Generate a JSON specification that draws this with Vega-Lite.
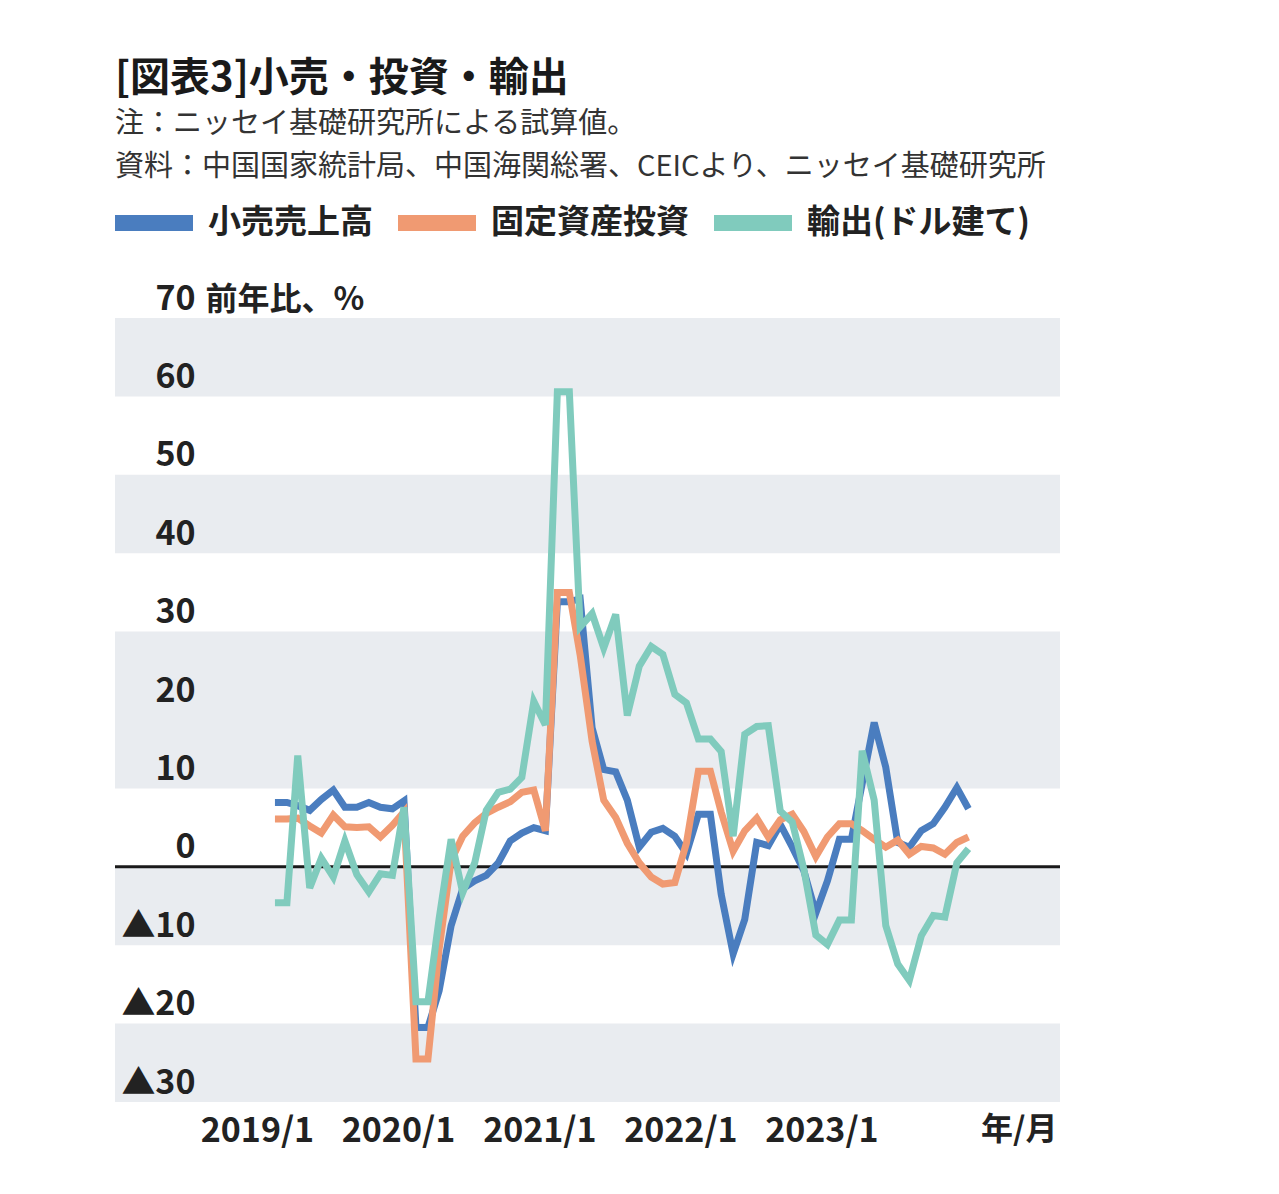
{
  "$schema": "https://vega.github.io/schema/vega-lite/v6.json",
  "width": 945,
  "height": 784,
  "autosize": {"type": "none"},
  "padding": {"left": 115, "top": 318, "right": 219, "bottom": 92},
  "background": "white",
  "config": {"font": "Noto Sans CJK JP", "view": {"stroke": null}},
  "title": {
    "text": "[図表3]小売・投資・輸出",
    "subtitle": ["注：ニッセイ基礎研究所による試算値。", "資料：中国国家統計局、中国海関総署、CEICより、ニッセイ基礎研究所"],
    "anchor": "start",
    "frame": "group",
    "fontSize": 40,
    "fontWeight": "bold",
    "color": "#1a1a1a",
    "subtitleFontSize": 29,
    "subtitleColor": "#333333",
    "subtitlePadding": 11,
    "subtitleLineHeight": 43,
    "offset": -6
  },
  "layer": [
    {
      "data": {"values": [
        {"lo": 60, "hi": 70}, {"lo": 40, "hi": 50}, {"lo": 10, "hi": 30}, {"lo": -10, "hi": 0}, {"lo": -30, "hi": -20}
      ]},
      "mark": {"type": "rect", "color": "#e9ecf0"},
      "encoding": {
        "y": {"field": "lo", "type": "quantitative"},
        "y2": {"field": "hi"}
      }
    },
    {
      "data": {"values": [{"z": 0}]},
      "mark": {"type": "rule", "color": "#1a1a1a", "strokeWidth": 3},
      "encoding": {"y": {"field": "z", "type": "quantitative"}}
    },
    {
      "data": {"values": [
        {"d": "2019-01-01", "retail": 8.2, "fai": 6.1, "export": -4.6},
        {"d": "2019-02-01", "retail": 8.2, "fai": 6.1, "export": -4.6},
        {"d": "2019-03-01", "retail": 7.8, "fai": 6.2, "export": 14.2},
        {"d": "2019-04-01", "retail": 7.2, "fai": 5.2, "export": -2.7},
        {"d": "2019-05-01", "retail": 8.6, "fai": 4.3, "export": 1.1},
        {"d": "2019-06-01", "retail": 9.8, "fai": 6.6, "export": -1.3},
        {"d": "2019-07-01", "retail": 7.6, "fai": 5.1, "export": 3.3},
        {"d": "2019-08-01", "retail": 7.6, "fai": 5.0, "export": -1.0},
        {"d": "2019-09-01", "retail": 8.2, "fai": 5.1, "export": -3.2},
        {"d": "2019-10-01", "retail": 7.6, "fai": 3.8, "export": -0.9},
        {"d": "2019-11-01", "retail": 7.4, "fai": 5.3, "export": -1.1},
        {"d": "2019-12-01", "retail": 8.4, "fai": 7.0, "export": 7.6},
        {"d": "2020-01-01", "retail": -20.5, "fai": -24.5, "export": -17.2},
        {"d": "2020-02-01", "retail": -20.5, "fai": -24.5, "export": -17.2},
        {"d": "2020-03-01", "retail": -15.8, "fai": -10.5, "export": -6.6},
        {"d": "2020-04-01", "retail": -7.5, "fai": 0.8, "export": 3.5},
        {"d": "2020-05-01", "retail": -2.8, "fai": 3.9, "export": -3.3},
        {"d": "2020-06-01", "retail": -1.8, "fai": 5.6, "export": 0.5},
        {"d": "2020-07-01", "retail": -1.1, "fai": 6.8, "export": 7.2},
        {"d": "2020-08-01", "retail": 0.5, "fai": 7.6, "export": 9.5},
        {"d": "2020-09-01", "retail": 3.3, "fai": 8.3, "export": 9.9},
        {"d": "2020-10-01", "retail": 4.3, "fai": 9.5, "export": 11.4},
        {"d": "2020-11-01", "retail": 5.0, "fai": 9.8, "export": 21.1},
        {"d": "2020-12-01", "retail": 4.6, "fai": 4.6, "export": 18.1},
        {"d": "2021-01-01", "retail": 33.8, "fai": 35.0, "export": 60.6},
        {"d": "2021-02-01", "retail": 33.8, "fai": 35.0, "export": 60.6},
        {"d": "2021-03-01", "retail": 34.2, "fai": 27.0, "export": 30.6},
        {"d": "2021-04-01", "retail": 17.7, "fai": 16.0, "export": 32.3},
        {"d": "2021-05-01", "retail": 12.4, "fai": 8.5, "export": 27.9},
        {"d": "2021-06-01", "retail": 12.1, "fai": 6.3, "export": 32.2},
        {"d": "2021-07-01", "retail": 8.5, "fai": 3.0, "export": 19.3},
        {"d": "2021-08-01", "retail": 2.5, "fai": 0.5, "export": 25.6},
        {"d": "2021-09-01", "retail": 4.4, "fai": -1.3, "export": 28.1},
        {"d": "2021-10-01", "retail": 4.9, "fai": -2.2, "export": 27.1},
        {"d": "2021-11-01", "retail": 3.9, "fai": -2.0, "export": 22.0},
        {"d": "2021-12-01", "retail": 1.7, "fai": 3.0, "export": 20.9},
        {"d": "2022-01-01", "retail": 6.7, "fai": 12.2, "export": 16.3},
        {"d": "2022-02-01", "retail": 6.7, "fai": 12.2, "export": 16.3},
        {"d": "2022-03-01", "retail": -3.5, "fai": 7.0, "export": 14.7},
        {"d": "2022-04-01", "retail": -11.1, "fai": 2.0, "export": 3.9},
        {"d": "2022-05-01", "retail": -6.7, "fai": 4.6, "export": 16.9},
        {"d": "2022-06-01", "retail": 3.1, "fai": 6.2, "export": 17.9},
        {"d": "2022-07-01", "retail": 2.7, "fai": 3.8, "export": 18.0},
        {"d": "2022-08-01", "retail": 5.4, "fai": 6.0, "export": 7.1},
        {"d": "2022-09-01", "retail": 2.5, "fai": 6.7, "export": 5.7},
        {"d": "2022-10-01", "retail": -0.5, "fai": 4.5, "export": -0.3},
        {"d": "2022-11-01", "retail": -5.9, "fai": 1.3, "export": -8.7},
        {"d": "2022-12-01", "retail": -1.8, "fai": 3.8, "export": -9.9},
        {"d": "2023-01-01", "retail": 3.5, "fai": 5.5, "export": -6.8},
        {"d": "2023-02-01", "retail": 3.5, "fai": 5.5, "export": -6.8},
        {"d": "2023-03-01", "retail": 10.6, "fai": 4.6, "export": 14.8},
        {"d": "2023-04-01", "retail": 18.4, "fai": 3.5, "export": 8.5},
        {"d": "2023-05-01", "retail": 12.7, "fai": 2.5, "export": -7.5},
        {"d": "2023-06-01", "retail": 3.1, "fai": 3.4, "export": -12.4},
        {"d": "2023-07-01", "retail": 2.5, "fai": 1.6, "export": -14.5},
        {"d": "2023-08-01", "retail": 4.6, "fai": 2.6, "export": -8.8},
        {"d": "2023-09-01", "retail": 5.5, "fai": 2.4, "export": -6.2},
        {"d": "2023-10-01", "retail": 7.6, "fai": 1.6, "export": -6.4},
        {"d": "2023-11-01", "retail": 10.1, "fai": 3.1, "export": 0.5},
        {"d": "2023-12-01", "retail": 7.4, "fai": 3.8, "export": 2.3}
      ]},
      "transform": [{"fold": ["retail", "fai", "export"], "as": ["s", "v"]}],
      "mark": {"type": "line", "strokeWidth": 7, "strokeJoin": "miter"},
      "encoding": {
        "x": {
          "field": "d",
          "type": "temporal",
          "timeUnit": "utcyearmonth",
          "scale": {"domain": [
            {"year": 2017, "month": 11, "date": 13, "utc": true},
            {"year": 2024, "month": 7, "date": 25, "utc": true}
          ]},
          "axis": {
            "values": [
              {"year": 2019, "month": 1, "date": 1, "utc": true},
              {"year": 2020, "month": 1, "date": 1, "utc": true},
              {"year": 2021, "month": 1, "date": 1, "utc": true},
              {"year": 2022, "month": 1, "date": 1, "utc": true},
              {"year": 2023, "month": 1, "date": 1, "utc": true}
            ],
            "format": "%Y/%-m",
            "title": "年/月",
            "labelFontSize": 34,
            "labelFontWeight": "bold",
            "labelColor": "#222222",
            "labelPadding": 12,
            "labelOffset": -18,
            "labelBaseline": "top",
            "labelFlush": false,
            "labelOverlap": false,
            "ticks": false,
            "domain": false,
            "grid": false,
            "titleX": 942,
            "titleY": 12,
            "titleAlign": "right",
            "titleBaseline": "top",
            "titleFontSize": 32,
            "titleFontWeight": "bold",
            "titleColor": "#222222"
          }
        },
        "y": {
          "field": "v",
          "type": "quantitative",
          "scale": {"domain": [-30, 70], "nice": false, "zero": false},
          "axis": {
            "values": [-30, -20, -10, 0, 10, 20, 30, 40, 50, 60, 70],
            "labelExpr": "datum.value < 0 ? '▲' + abs(datum.value) : datum.label",
            "orient": "left",
            "ticks": false,
            "tickSize": 0,
            "domain": false,
            "grid": false,
            "labelAlign": "right",
            "labelPadding": -80,
            "labelBaseline": "alphabetic",
            "labelOffset": -9,
            "labelFontSize": 34,
            "labelFontWeight": "bold",
            "labelColor": "#222222",
            "labelFlush": false,
            "labelOverlap": false,
            "title": "前年比、%",
            "titleAngle": 0,
            "titleX": 90,
            "titleY": -9,
            "titleAlign": "left",
            "titleBaseline": "alphabetic",
            "titleFontSize": 32,
            "titleFontWeight": "bold",
            "titleColor": "#222222",
            "zindex": 1
          }
        },
        "color": {
          "field": "s",
          "type": "nominal",
          "scale": {"domain": ["retail", "fai", "export"], "range": ["#4a7dbf", "#f09a72", "#80cbbd"]},
          "legend": {
            "orient": "none",
            "legendX": -8,
            "legendY": -142,
            "direction": "horizontal",
            "title": null,
            "symbolType": "stroke",
            "symbolSize": 6084,
            "symbolStrokeWidth": 16,
            "labelExpr": "datum.label == 'retail' ? '小売売上高' : datum.label == 'fai' ? '固定資産投資' : '輸出(ドル建て)'",
            "labelFontSize": 33,
            "labelFontWeight": "bold",
            "labelColor": "#222222",
            "labelOffset": 7,
            "columnPadding": -7,
            "labelLimit": 400
          }
        }
      }
    }
  ]
}
